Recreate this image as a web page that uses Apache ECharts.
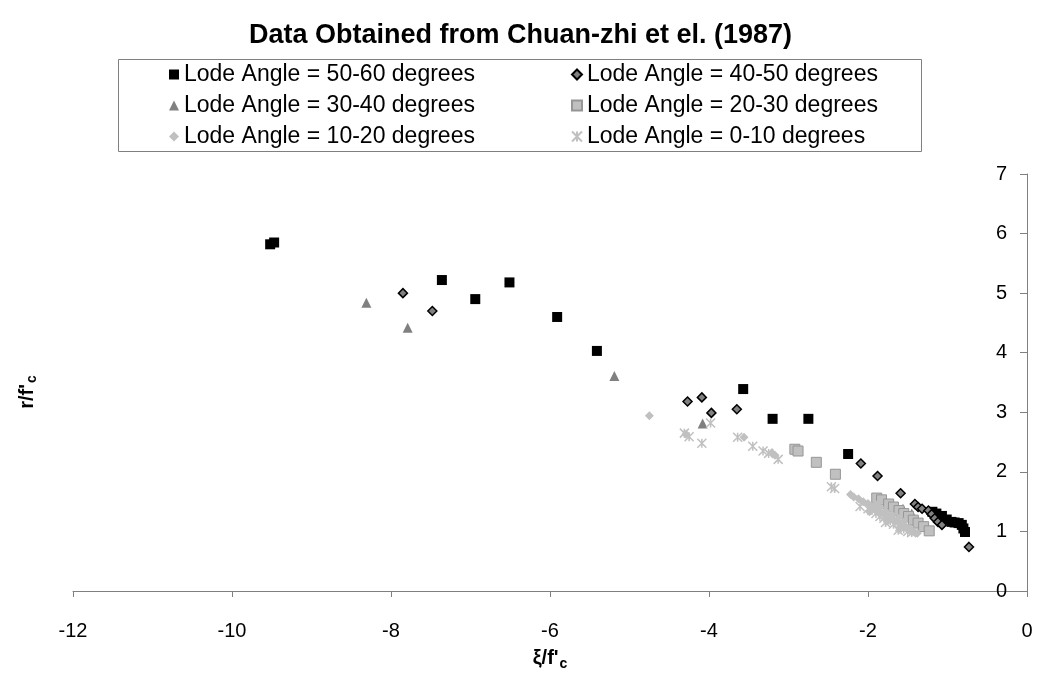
<!DOCTYPE html>
<html>
<head>
<meta charset="utf-8">
<script src="https://cdn.jsdelivr.net/npm/echarts@6/dist/echarts.min.js"></script>
<style>
html,body{margin:0;padding:0;background:#fff;}
#chart{width:1041px;height:692px;}
</style>
</head>
<body>
<div id="chart"></div>
<script>
var seriesNames = [
  'Lode Angle = 50-60 degrees',
  'Lode Angle = 40-50 degrees',
  'Lode Angle = 30-40 degrees',
  'Lode Angle = 20-30 degrees',
  'Lode Angle = 10-20 degrees',
  'Lode Angle = 0-10 degrees'
];
var xTicks = [-12, -10, -8, -6, -4, -2, 0];
var yTicks = [0, 1, 2, 3, 4, 5, 6, 7];

var lode50_60 = [
  [-9.52,5.82],[-9.47,5.85],[-7.36,5.22],[-6.94,4.90],[-6.51,5.18],[-5.91,4.60],[-5.41,4.03],
  [-3.57,3.39],[-3.20,2.89],[-2.75,2.89],[-2.25,2.30],
  [-1.19,1.33],[-1.14,1.30],[-1.07,1.26],[-1.01,1.20],[-0.95,1.16],[-0.91,1.15],[-0.86,1.14],
  [-0.82,1.11],[-0.80,1.05],[-0.78,0.99]
];
var lode40_50 = [
  [-7.85,5.00],[-7.48,4.70],[-4.27,3.18],[-4.09,3.25],[-3.97,2.99],[-3.65,3.05],
  [-2.09,2.14],[-1.88,1.93],[-1.59,1.64],[-1.41,1.46],[-1.37,1.41],[-1.32,1.38],
  [-1.24,1.35],[-1.20,1.29],[-1.16,1.22],[-1.12,1.16],[-1.07,1.11],[-0.73,0.74]
];
var lode30_40 = [
  [-8.31,4.84],[-7.79,4.42],[-5.19,3.61],[-4.08,2.81],[-1.56,1.38],[-1.45,1.30]
];
var lode20_30 = [
  [-2.92,2.38],[-2.88,2.35],[-2.65,2.16],[-2.41,1.96],[-1.89,1.56],[-1.83,1.53],
  [-1.74,1.46],[-1.68,1.41],[-1.61,1.35],[-1.55,1.30],[-1.49,1.25],[-1.43,1.19],
  [-1.37,1.14],[-1.30,1.08],[-1.23,1.01]
];
var lode10_20 = [
  [-4.75,2.94],[-4.29,2.63],[-3.56,2.58],[-3.21,2.32],[-3.17,2.28],
  [-2.22,1.62],[-2.18,1.58],[-2.12,1.55],[-2.06,1.50],[-2.00,1.47],[-1.95,1.42],
  [-1.92,1.38],[-1.88,1.36],[-1.84,1.32],[-1.80,1.30],[-1.76,1.27],[-1.72,1.24],
  [-1.68,1.20],[-1.65,1.17],[-1.62,1.15],[-1.58,1.13],[-1.55,1.10],[-1.52,1.07],
  [-1.48,1.05],[-1.45,1.02],[-1.42,0.99],[-1.38,0.97],[-1.90,1.45],[-1.85,1.40],
  [-1.78,1.34],[-1.70,1.28],[-1.62,1.22],[-1.55,1.16],[-1.60,1.06],[-1.75,1.18],
  [-1.98,1.33]
];
var lode0_10 = [
  [-4.31,2.65],[-4.25,2.59],[-4.09,2.48],[-3.98,2.82],[-3.64,2.58],[-3.45,2.43],
  [-3.32,2.35],[-3.25,2.31],[-3.13,2.21],[-2.46,1.75],[-2.42,1.72],
  [-2.10,1.42],[-2.00,1.38],[-1.90,1.30],[-1.85,1.25],[-1.80,1.22],[-1.72,1.18],
  [-1.68,1.12],[-1.60,1.08],[-1.55,1.04],[-1.50,1.00],[-1.45,0.98],[-1.95,1.35],
  [-1.78,1.15],[-1.62,1.02]
];

var FONT = 'Liberation Sans, Arial, sans-serif';
var starPath = 'path://M0,0L10,10M10,0L0,10M5,0L5,10';

var chart = echarts.init(document.getElementById('chart'));
var option = {
  backgroundColor: '#ffffff',
  animation: false,
  title: {
    text: 'Data Obtained from Chuan-zhi et el. (1987)',
    left: 'center',
    top: 17,
    textStyle: { fontFamily: FONT, fontWeight: 'bold', fontSize: 27, color: '#000' }
  },
  graphic: [
    {
      type: 'rect', silent: true,
      shape: { x: 118.5, y: 59.5, width: 803, height: 92 },
      style: { fill: 'none', stroke: '#808080', lineWidth: 1 }
    },
    {
      type: 'text', silent: true,
      x: 27, y: 392, rotation: Math.PI / 2,
      style: {
        text: "{a|r/f'}{s|c}",
        align: 'center', verticalAlign: 'middle',
        rich: {
          a: { fontFamily: FONT, fontWeight: 'bold', fontSize: 20, fill: '#000' },
          s: { fontFamily: FONT, fontWeight: 'bold', fontSize: 14, fill: '#000', padding: [10, 0, 0, 1] }
        }
      }
    }
  ],
  legend: [
    {
      data: [seriesNames[0], seriesNames[2], seriesNames[4]],
      orient: 'vertical', left: 164, top: 58, itemGap: 8,
      itemWidth: 10, itemHeight: 10,
      textStyle: { fontFamily: FONT, fontSize: 23, color: '#000' }
    },
    {
      data: [seriesNames[1], seriesNames[3], seriesNames[5]],
      orient: 'vertical', left: 566, top: 58, itemGap: 8,
      itemWidth: 10, itemHeight: 10,
      textStyle: { fontFamily: FONT, fontSize: 23, color: '#000' }
    }
  ],
  grid: { left: 73, right: 14, top: 174, bottom: 101 },
  xAxis: {
    type: 'value', min: -12, max: 0, interval: 2,
    name: "{a|ξ/f'}{s|c}",
    nameLocation: 'middle', nameGap: 54,
    nameTextStyle: {
      rich: {
        a: { fontFamily: FONT, fontWeight: 'bold', fontSize: 20, color: '#000' },
        s: { fontFamily: FONT, fontWeight: 'bold', fontSize: 14, color: '#000', padding: [12, 0, 0, 1] }
      }
    },
    axisLine: { onZero: false, lineStyle: { color: '#808080', width: 1 } },
    axisTick: { show: true, length: 6, lineStyle: { color: '#808080' } },
    axisLabel: {
      margin: 30, fontFamily: FONT, fontSize: 20, color: '#000',
      formatter: function (v) { return xTicks.indexOf(v) >= 0 ? String(v) : ''; }
    },
    splitLine: { show: false }
  },
  yAxis: {
    type: 'value', min: 0, max: 7, interval: 1, position: 'right',
    axisLine: { show: true, onZero: false, lineStyle: { color: '#808080', width: 1 } },
    axisTick: { show: true, inside: true, length: 7, lineStyle: { color: '#808080' } },
    axisLabel: {
      inside: true, margin: 20, fontFamily: FONT, fontSize: 20, color: '#000',
      formatter: function (v) { return yTicks.indexOf(v) >= 0 ? String(v) : ''; }
    },
    splitLine: { show: false }
  },
  series: [
    {
      name: seriesNames[0], type: 'scatter', data: lode50_60,
      symbol: 'rect', symbolSize: 10,
      itemStyle: { color: '#000000', opacity: 1 }
    },
    {
      name: seriesNames[1], type: 'scatter', data: lode40_50,
      symbol: 'diamond', symbolSize: 9,
      itemStyle: { color: '#808080', borderColor: '#000000', borderWidth: 1.5, opacity: 1 }
    },
    {
      name: seriesNames[2], type: 'scatter', data: lode30_40,
      symbol: 'triangle', symbolSize: 10,
      itemStyle: { color: '#808080', opacity: 1 }
    },
    {
      name: seriesNames[3], type: 'scatter', data: lode20_30,
      symbol: 'rect', symbolSize: 10,
      itemStyle: { color: '#c0c0c0', borderColor: '#969696', borderWidth: 1, opacity: 1 }
    },
    {
      name: seriesNames[4], type: 'scatter', data: lode10_20,
      symbol: 'diamond', symbolSize: 9,
      itemStyle: { color: '#c0c0c0', opacity: 1 }
    },
    {
      name: seriesNames[5], type: 'scatter', data: lode0_10,
      symbol: starPath, symbolSize: 9,
      itemStyle: { color: '#c0c0c0', borderColor: '#c0c0c0', borderWidth: 1.5, opacity: 1 }
    }
  ]
};
chart.setOption(option);
</script>
</body>
</html>
